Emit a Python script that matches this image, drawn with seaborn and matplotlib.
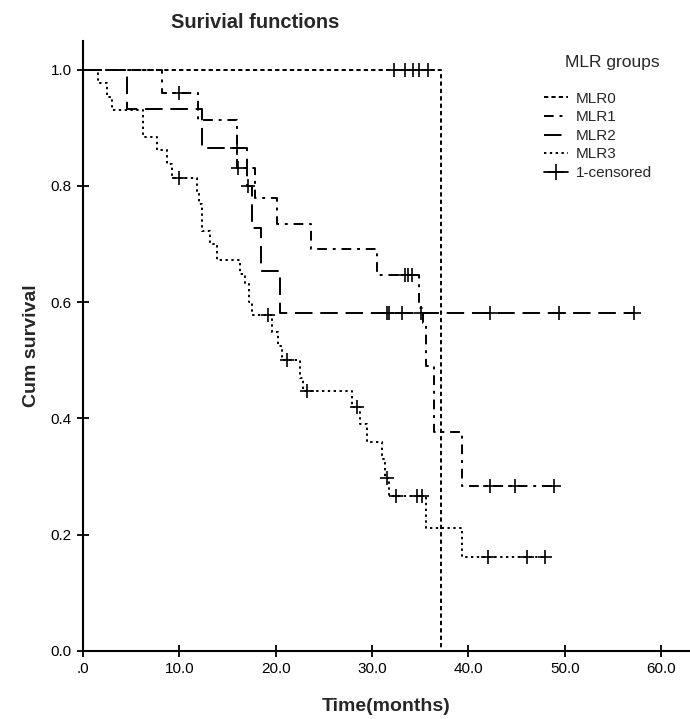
import numpy as np
import matplotlib
matplotlib.use("Agg")
import matplotlib.pyplot as plt
from matplotlib.lines import Line2D
import seaborn as sns

# step points (time, survival after event) and censored times per group
mlr0_t = [0, 37.2]
mlr0_s = [1.0, 0.0]
mlr0_c = [32.3, 33.4, 34.2, 34.9, 35.8]

mlr1_t = [0, 8.2, 11.9, 16.0, 17.8, 20.1, 23.7, 30.5, 34.9, 35.3, 35.6, 36.4, 39.3, 48.9]
mlr1_s = [1.0, 0.959, 0.914, 0.830, 0.780, 0.735, 0.692, 0.646, 0.590, 0.565, 0.490, 0.376, 0.283, 0.283]
mlr1_c = [10.0, 16.1, 33.4, 33.7, 34.1, 42.2, 44.8, 48.9]

mlr2_t = [0, 4.6, 12.3, 17.0, 17.5, 18.5, 20.4, 57.2]
mlr2_s = [1.0, 0.933, 0.866, 0.800, 0.728, 0.654, 0.582, 0.582]
mlr2_c = [16.0, 17.1, 31.5, 31.8, 33.1, 35.1, 42.2, 49.4, 57.2]

mlr3_t = [0, 1.6, 2.5, 3.0, 6.2, 7.7, 8.7, 9.2, 11.8, 12.0, 12.4, 13.2, 13.9, 16.3, 16.8,
          17.2, 17.5, 19.6, 20.2, 20.7, 22.5, 22.8, 27.9, 28.7, 29.5, 31.0, 31.3, 31.8,
          35.6, 39.3, 48.0]
mlr3_s = [1.0, 0.977, 0.953, 0.930, 0.884, 0.861, 0.838, 0.814, 0.792, 0.768, 0.723, 0.700,
          0.672, 0.649, 0.632, 0.600, 0.578, 0.548, 0.525, 0.500, 0.470, 0.447, 0.419, 0.390,
          0.359, 0.331, 0.298, 0.267, 0.212, 0.161, 0.161]
mlr3_c = [10.0, 19.2, 21.2, 23.2, 28.4, 31.6, 32.5, 34.7, 35.2, 42.0, 46.1, 48.0]

groups = ["MLR0", "MLR1", "MLR2", "MLR3"]
x_ticks = [0, 10, 20, 30, 40, 50, 60]
x_labels = [".0", "10.0", "20.0", "30.0", "40.0", "50.0", "60.0"]
y_ticks = [0.0, 0.2, 0.4, 0.6, 0.8, 1.0]

styles = {
    "MLR0": (0, (2.2, 1.6)),
    "MLR1": (0, (5, 3, 1.5, 3)),
    "MLR2": (0, (9, 4)),
    "MLR3": (0, (1.2, 1.8)),
}

sns.set_style("white")
plt.rcParams["font.family"] = ["Liberation Sans", "DejaVu Sans"]

fig = plt.figure(figsize=(6.9, 7.19), dpi=100)
ax = fig.add_axes([0.1203, 0.0946, 0.8797, 0.849])


def step_at(t, s, c):
    idx = np.searchsorted(np.array(t), np.array(c), side="right") - 1
    return np.array(s)[idx]


data = {
    "MLR0": (mlr0_t, mlr0_s, mlr0_c),
    "MLR1": (mlr1_t, mlr1_s, mlr1_c),
    "MLR2": (mlr2_t, mlr2_s, mlr2_c),
    "MLR3": (mlr3_t, mlr3_s, mlr3_c),
}

for g in groups:
    t, s, c = data[g]
    sns.lineplot(x=t, y=s, drawstyle="steps-post", color="black", linewidth=1.4,
                 linestyle=styles[g], ax=ax, sort=False, estimator=None)
    cy = step_at(t, s, c)
    ax.scatter(c, cy, marker="+", s=90, color="black", linewidths=1.2, zorder=3)

ax.set_xlim(0, 63)
ax.set_ylim(0, 1.05)
ax.set_xticks(x_ticks)
ax.set_xticklabels(x_labels)
ax.set_yticks(y_ticks)
ax.set_yticklabels([f"{v:.1f}" for v in y_ticks])
ax.tick_params(axis="both", direction="inout", length=9, width=1.3, labelsize=11,
               colors="black", bottom=True, left=True)
for side in ["top", "right"]:
    ax.spines[side].set_visible(False)
for side in ["left", "bottom"]:
    ax.spines[side].set_linewidth(1.5)
    ax.spines[side].set_color("black")

ax.set_xlabel("Time(months)", fontsize=14, fontweight="bold", labelpad=16)
ax.set_ylabel("Cum survival", fontsize=14, fontweight="bold", labelpad=8)
fig.text(0.37, 0.969, "Surivial functions", fontsize=14.5, fontweight="bold",
         ha="center", va="center")

fig.text(612 / 690, 1 - 62 / 719, "MLR groups", fontsize=12.5, ha="center", va="center")
handles = [Line2D([0], [0], color="black", linewidth=1.4, linestyle=styles[g]) for g in groups]
handles.append(Line2D([0], [0], color="black", linewidth=1.3, marker="+", markersize=12,
                      markeredgewidth=1.2))
leg = fig.legend(handles, groups + ["1-censored"], loc="upper left",
                 bbox_to_anchor=(530 / 690, 1 - 78 / 719), frameon=False, fontsize=11,
                 handlelength=1.6, labelspacing=0.3, handletextpad=0.5)

fig.savefig("out.png", dpi=100)
